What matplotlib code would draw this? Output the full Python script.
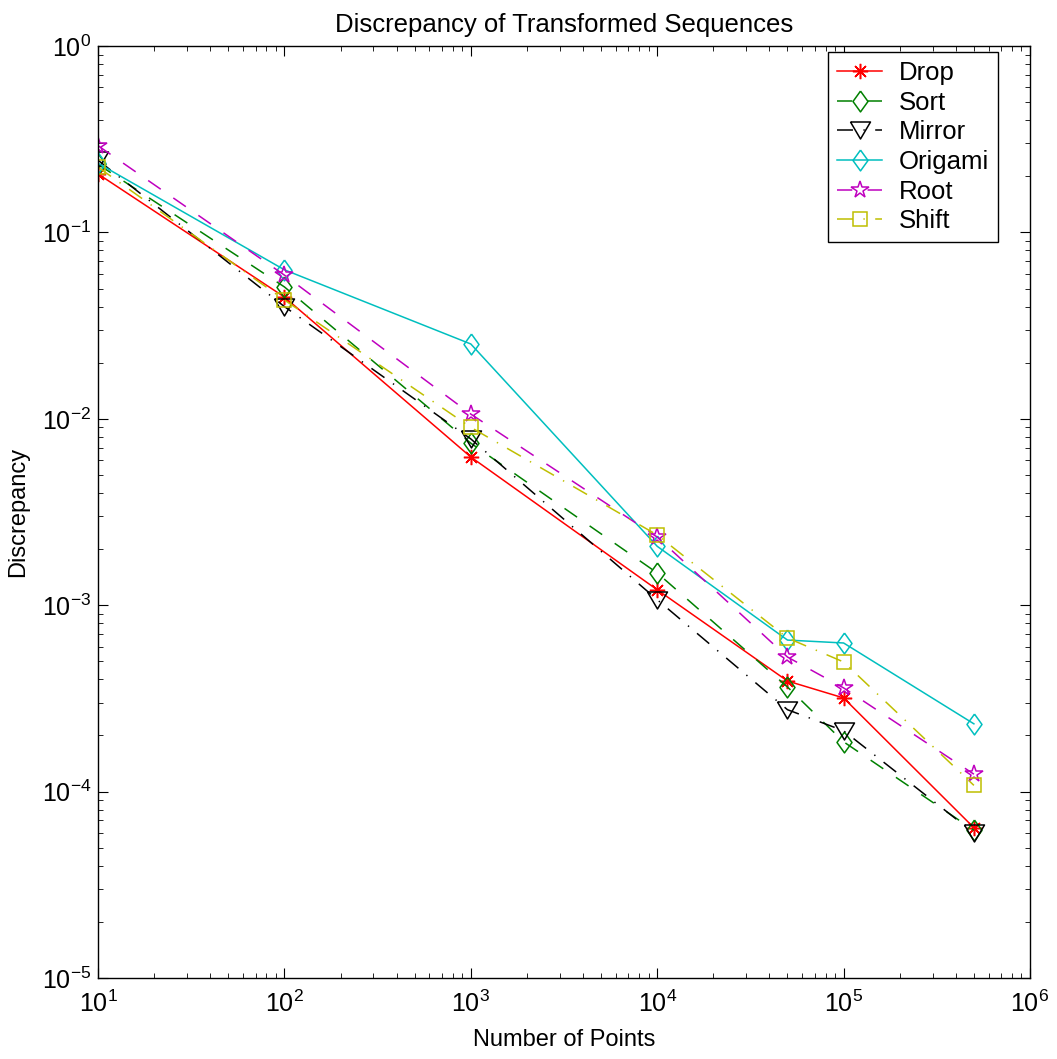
import matplotlib
matplotlib.use("Agg")
import matplotlib.pyplot as plt
import numpy as np

plt.rcParams['font.family'] = ['Liberation Sans', 'DejaVu Sans']
plt.rcParams['mathtext.fontset'] = 'custom'
plt.rcParams['mathtext.rm'] = 'Liberation Sans'
plt.rcParams['mathtext.it'] = 'Liberation Sans:italic'
plt.rcParams['mathtext.bf'] = 'Liberation Sans:bold'
plt.rcParams['lines.scale_dashes'] = False

n_points = [10, 100, 1000, 10000, 50000, 100000, 500000]
drop    = [0.206, 0.045, 0.00624, 0.00121, 0.000392, 0.000318, 6.4e-5]
sort_   = [0.232, 0.051, 0.0074, 0.00149, 0.000364, 0.000185, 6.2e-5]
mirror  = [0.244, 0.040, 0.0078, 0.00107, 0.000275, 0.000212, 6.0e-5]
origami = [0.235, 0.063, 0.0252, 0.00207, 0.00065, 0.000627, 0.000231]
root    = [0.292, 0.059, 0.0106, 0.00232, 0.000527, 0.000360, 0.000124]
shift   = [0.224, 0.0434, 0.0090, 0.00238, 0.000667, 0.000496, 0.000108]

diamond = [(0, 1), (0.72, 0), (0, -1), (-0.72, 0), (0, 1)]
tri_down = [(-1, 0.85), (1, 0.85), (0, -0.85), (-1, 0.85)]
DASH = (0, (11, 11))
DASHDOT = (0, (11.5, 7.5, 1, 7.5))

series = [
    ("Drop", drop, 'r', '-', (8, 2, 0), 11),
    ("Sort", sort_, (0, 0.5, 0), DASH, diamond, 15),
    ("Mirror", mirror, 'k', DASHDOT, tri_down, 14.4),
    ("Origami", origami, (0, 0.75, 0.75), '-', diamond, 15),
    ("Root", root, (0.75, 0, 0.75), DASH, '*', 13),
    ("Shift", shift, (0.75, 0.75, 0), DASHDOT, 's', 10),
]

fig = plt.figure(figsize=(10.57, 10.59), dpi=100)
ax = fig.add_axes([98/1057, 1-978/1059, (1030-98)/1057, (978-46)/1059])

for name, vals, col, ls, mk, ms in series:
    ax.plot(n_points, vals, color=col, linestyle=ls, marker=mk, markersize=ms,
            linewidth=1.1, label=name, markerfacecolor='none',
            markeredgecolor=col, markeredgewidth=1.1)

ax.set_xscale('log')
ax.set_yscale('log')
ax.set_xlim(10, 1e6)
ax.set_ylim(1e-5, 1)
ax.tick_params(which='both', direction='in', top=True, right=True, labelsize=18)
ax.tick_params(which='major', length=7)
ax.tick_params(which='minor', length=3.7)
ax.tick_params(axis='x', which='major', pad=9)
ax.tick_params(axis='y', which='major', pad=5)
ax.set_xlabel("Number of Points", fontsize=17, labelpad=9)
ax.set_ylabel("Discrepancy", fontsize=17, labelpad=9)
ax.set_title("Discrepancy of Transformed Sequences", fontsize=18.5, pad=10)
for s in ax.spines.values():
    s.set_linewidth(1.0)

leg = ax.legend(loc='upper right', bbox_to_anchor=(998/1057, 1-52/1059),
                bbox_transform=fig.transFigure, fontsize=18.5, frameon=True,
                fancybox=False, edgecolor='k', framealpha=1, borderaxespad=0,
                handlelength=1.75, handletextpad=0.65, labelspacing=0.22,
                borderpad=0.35, numpoints=1)
leg.get_frame().set_linewidth(1.0)

fig.savefig("out.png", dpi=100)
